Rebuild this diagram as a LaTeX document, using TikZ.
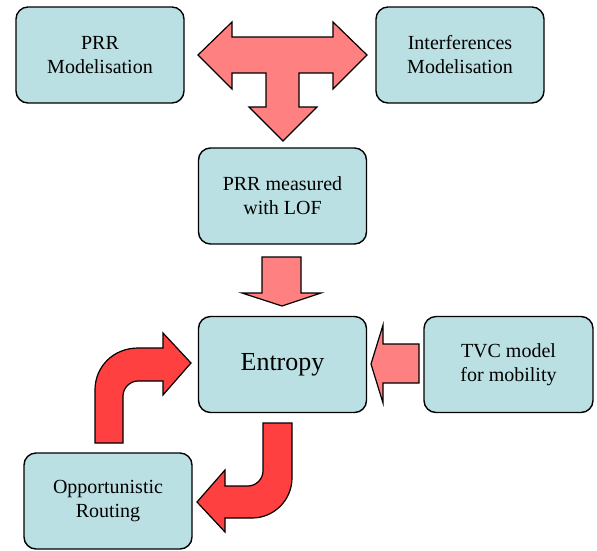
\documentclass[tikz,border=0pt]{standalone}
\usepackage{fontspec}
\setmainfont{Liberation Serif}
\definecolor{boxfill}{RGB}{187,224,227}
\definecolor{pinkarrow}{RGB}{255,128,128}
\definecolor{redarrow}{RGB}{255,64,64}
\tikzset{
	block/.style={draw, line width=1.4pt, rounded corners=12pt, fill=boxfill, minimum width=168pt, minimum height=96pt, align=center, inner sep=0pt, font=\fontsize{20}{24}\selectfont},
	fatarrow/.style={draw, line width=1.2pt, line join=miter, fill=#1}
}
\begin{document}
\begin{tikzpicture}[x=1pt, y=-1pt]
	%\draw[help lines] (0,0) grid (597,550);
	\useasboundingbox (0,0) rectangle (597,550);
	
	\node [block] (prr) at (100, 55) {PRR\\Modelisation};
	\node [block] (interf) at (460, 55) {Interferences\\Modelisation};
	\node [block] (lof) at (282.5, 196) {PRR measured\\with LOF};
	\node [block, font=\fontsize{26}{30}\selectfont] (entropy) at (282.5, 364.5) {Entropy};
	\node [block, minimum width=169pt] (tvc) at (508.5, 364.5) {TVC model\\for mobility};
	\node [block] (routing) at (108, 501) {Opportunistic\\Routing};
	
	% T arrow between the two models
	\draw [fatarrow=pinkarrow] (198, 55) -- (232, 22) -- (232, 37) -- (333, 37) -- (333, 22) -- (367, 55)
		-- (333, 89) -- (333, 73) -- (299, 73) -- (299, 107) -- (317, 107) -- (283, 141)
		-- (249, 107) -- (266, 107) -- (266, 73) -- (232, 73) -- (232, 89) -- cycle;
	
	\draw [fatarrow=pinkarrow] (262, 257) -- (301, 257) -- (301, 293) -- (321, 293) -- (282, 306)
		-- (242, 293) -- (262, 293) -- cycle;
	
	\draw [fatarrow=pinkarrow] (419, 344) -- (383, 344) -- (383, 325) -- (371, 364) -- (383, 403)
		-- (383, 383) -- (419, 383) -- cycle;
	
	% bent arrows of the loop
	\draw [fatarrow=redarrow] (95, 443) -- (95, 390) .. controls (95, 366) and (114, 348) .. (138, 348)
		-- (163, 348) -- (163, 333) -- (191, 363) -- (163, 395) -- (163, 381) -- (138, 381)
		.. controls (130, 381) and (123, 388) .. (123, 396) -- (123, 443) -- cycle;
	
	\draw [fatarrow=redarrow] (263, 423) -- (292, 423) -- (292, 478) .. controls (292, 500) and (274, 518) .. (252, 518)
		-- (225, 518) -- (225, 532) -- (197, 502) -- (225, 470) -- (225, 486) -- (248, 486)
		.. controls (256, 486) and (263, 479) .. (263, 471) -- cycle;
\end{tikzpicture}
\end{document}
